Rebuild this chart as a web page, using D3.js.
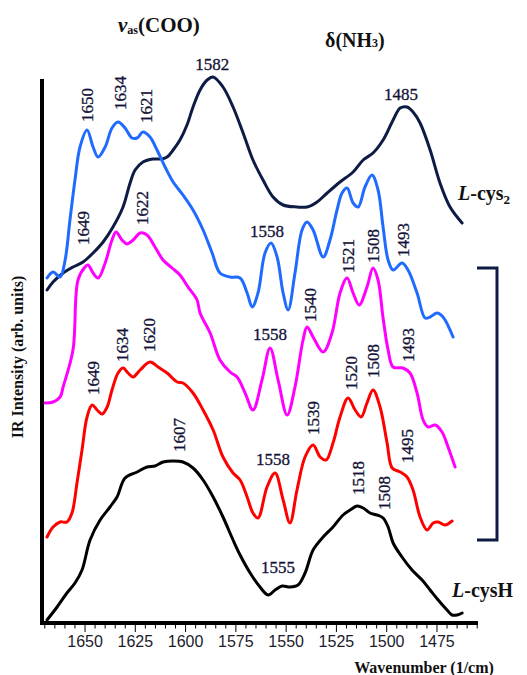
<!DOCTYPE html>
<html>
<head>
<meta charset="utf-8">
<script src="https://cdn.jsdelivr.net/npm/d3@7"></script>
<style>
  body { margin: 0; background: #fff; }
  svg text { font-family: "Liberation Serif", "Times New Roman", serif; }
</style>
</head>
<body>
<div id="chart"></div>
<script>
// spectra, [wavenumber, intensity (arb.)]
const cys2 = [
  [1668.9,333],[1665.9,341],[1660.9,350],[1656.0,356],[1651.0,361],[1646.0,370],[1641.0,381],
  [1636.1,396],[1631.1,416],[1627.6,440],[1625.1,453],[1621.2,461],[1616.2,464],[1611.7,464],
  [1609.2,466],[1606.2,473],[1602.8,483],[1599.3,498],[1596.3,516],[1592.8,533],[1589.3,543],
  [1586.3,546],[1581.4,536],[1576.4,516],[1571.4,490],[1566.5,463],[1561.5,443],[1556.5,426],
  [1551.5,418],[1544.6,416],[1539.6,416],[1534.6,421],[1529.6,430],[1523.2,441],[1516.7,451],
  [1511.7,463],[1506.8,470],[1501.8,483],[1496.8,503],[1493.3,515],[1489.9,516],[1486.9,511],
  [1483.4,500],[1478.4,473],[1473.5,440],[1468.5,416],[1462.5,400]
];
const blueSeries = [
  [1668.9,345],[1665.9,351],[1662.4,346],[1659.9,363],[1657.5,403],[1655.0,443],[1652.5,476],
  [1649.0,493],[1646.0,476],[1643.5,466],[1640.0,476],[1636.6,495],[1633.6,501],[1630.1,495],
  [1626.6,485],[1624.1,485],[1621.2,491],[1617.7,486],[1614.2,473],[1610.2,456],[1606.2,441],
  [1601.3,428],[1596.3,413],[1591.3,393],[1586.8,370],[1582.9,350],[1577.9,346],[1572.9,345],
  [1569.4,330],[1566.9,316],[1564.0,330],[1560.5,370],[1557.5,380],[1554.5,366],[1551.5,330],
  [1549.0,313],[1545.6,350],[1542.1,393],[1539.6,401],[1536.6,393],[1531.6,366],[1528.2,383],
  [1524.7,413],[1522.2,430],[1519.7,435],[1516.7,420],[1514.2,416],[1510.8,436],[1507.3,448],
  [1504.3,433],[1501.8,396],[1499.3,363],[1496.8,353],[1492.4,360],[1489.4,353],[1484.9,330],
  [1480.9,305],[1478.4,306],[1474.9,310],[1472.0,306],[1467.0,286]
];
const magentaSeries = [
  [1669.9,220],[1665.9,221],[1662.4,226],[1660.9,236],[1656.0,273],[1653.5,343],[1650.0,356],
  [1648.5,358],[1646.0,350],[1643.5,345],[1640.0,360],[1636.6,383],[1634.6,391],[1631.6,383],
  [1629.1,379],[1626.1,383],[1622.6,390],[1619.2,388],[1615.2,376],[1611.2,363],[1606.7,355],
  [1602.8,348],[1598.8,336],[1594.3,323],[1592.8,310],[1587.8,290],[1582.9,263],[1577.9,251],
  [1574.4,246],[1570.4,230],[1566.5,213],[1562.0,243],[1558.0,275],[1554.0,243],[1549.5,208],
  [1545.6,236],[1541.6,283],[1539.6,296],[1536.6,286],[1531.6,271],[1527.2,290],[1523.2,330],
  [1519.7,345],[1516.7,330],[1513.7,318],[1509.8,336],[1506.8,355],[1504.3,343],[1501.8,305],
  [1499.3,273],[1496.8,256],[1491.9,255],[1488.4,250],[1484.9,230],[1481.9,203],[1479.4,196],
  [1475.9,198],[1472.5,191],[1469.5,176],[1466.0,156]
];
const redSeries = [
  [1668.9,86],[1665.9,96],[1662.4,101],[1659.0,101],[1656.5,110],[1654.0,140],[1651.5,173],
  [1649.0,206],[1646.5,218],[1644.0,213],[1641.5,209],[1639.0,216],[1636.6,233],[1633.6,250],
  [1631.1,255],[1628.6,250],[1626.1,246],[1622.6,253],[1617.7,261],[1613.7,256],[1609.2,250],
  [1604.2,241],[1601.3,240],[1596.3,230],[1591.3,213],[1586.3,193],[1581.4,166],[1576.4,150],
  [1572.9,143],[1569.4,126],[1566.5,110],[1564.0,105],[1559.5,136],[1555.5,150],[1551.5,123],
  [1548.1,100],[1544.6,133],[1540.6,166],[1536.6,178],[1533.1,166],[1530.1,163],[1526.7,180],
  [1523.2,206],[1519.2,225],[1515.7,213],[1512.7,206],[1509.8,220],[1506.8,233],[1503.3,216],
  [1499.8,180],[1497.3,155],[1493.3,151],[1489.9,146],[1486.9,133],[1483.4,106],[1479.9,93],
  [1476.9,100],[1474.4,101],[1471.0,98],[1467.5,102]
];
const cysH = [
  [1668.9,3],[1663.9,16],[1659.0,30],[1655.0,40],[1651.5,53],[1647.5,83],[1642.5,103],
  [1637.6,116],[1634.1,126],[1630.1,145],[1624.1,151],[1619.2,156],[1615.2,157],[1611.2,161],
  [1606.2,162],[1601.3,161],[1596.3,155],[1591.3,143],[1586.3,126],[1581.4,106],[1576.4,83],
  [1572.9,68],[1567.9,50],[1563.0,36],[1559.0,28],[1555.5,33],[1552.0,37],[1548.1,36],
  [1544.1,38],[1540.6,50],[1536.6,73],[1531.6,86],[1526.7,96],[1521.7,108],[1518.2,113],
  [1514.7,117],[1511.7,115],[1508.3,110],[1504.8,108],[1501.8,105],[1499.3,96],[1496.8,80],
  [1492.4,66],[1487.4,53],[1482.4,43],[1478.4,33],[1474.4,23],[1470.0,13],[1467.5,8],
  [1465.0,8],[1462.5,10]
];

const seriesColors = ["#0e1c45", "#1f6bff", "#ff00ff", "#ff0000", "#000000"];

// peak labels: text, wavenumber, intensity, vertical?
const peakLabels = [
  ["1582",1586.8,553,false],["1485",1492.9,523,false],
  ["1650",1649.0,501,true],["1634",1632.6,513,true],["1621",1619.2,500,true],
  ["1558",1559.5,386,false],["1521",1519.2,350,true],["1508",1506.8,360,true],["1493",1491.4,366,true],
  ["1649",1651.0,378,true],["1622",1621.2,398,true],["1558",1558.0,283,false],
  ["1540",1538.1,301,true],["1493",1489.4,261,true],
  ["1649",1646.0,228,true],["1634",1631.6,261,true],["1620",1617.7,271,true],
  ["1558",1556.5,158,false],["1539",1536.6,188,true],["1520",1517.7,233,true],
  ["1508",1506.8,245,true],["1495",1489.9,160,true],
  ["1607",1602.8,171,true],["1555",1554.0,50,false],["1518",1514.2,128,true],["1508",1501.3,113,true]
];

const majorTicks = [1650, 1625, 1600, 1575, 1550, 1525, 1500, 1475];
const minorTicks = d3.range(1670, 1454, -5);

const W = 527, H = 675;
const svg = d3.select("#chart").append("svg").attr("width", W).attr("height", H);

const x = d3.scaleLinear().domain([1671.4, 1454.6]).range([42, 478]);
const y = d3.scaleLinear().domain([0, 545]).range([623, 78]);

// curves
const line = d3.line()
  .x((d) => x(d[0]))
  .y((d) => y(d[1]))
  .curve(d3.curveCatmullRom.alpha(0.5));

[cys2, blueSeries, magentaSeries, redSeries, cysH].forEach((s, i) => {
  svg.append("path")
    .attr("d", line(s))
    .attr("fill", "none")
    .attr("stroke", seriesColors[i])
    .attr("stroke-width", 3)
    .attr("stroke-linejoin", "round")
    .attr("stroke-linecap", "round");
});

// axes
const xAxis = svg.append("g").attr("transform", "translate(0,623)");
xAxis.selectAll("line.tick")
  .data(minorTicks)
  .enter()
  .append("line")
  .attr("x1", (d) => x(d)).attr("x2", (d) => x(d))
  .attr("y1", 0).attr("y2", (d) => majorTicks.includes(d) ? 9 : 5.5)
  .attr("stroke", "#000").attr("stroke-width", 1);
xAxis.selectAll("text")
  .data(majorTicks)
  .enter()
  .append("text")
  .attr("x", (d) => x(d))
  .attr("y", 24)
  .attr("text-anchor", "middle")
  .style("font-family", "'Liberation Sans', Arial, sans-serif")
  .style("font-size", "16px")
  .attr("fill", "#1c1c2c")
  .text((d) => d);

svg.append("line").attr("x1", 40).attr("x2", 478).attr("y1", 623).attr("y2", 623)
  .attr("stroke", "#000").attr("stroke-width", 4);
svg.append("line").attr("x1", 42).attr("x2", 42).attr("y1", 79).attr("y2", 625)
  .attr("stroke", "#000").attr("stroke-width", 4);

// peak labels
svg.append("g").selectAll("text")
  .data(peakLabels)
  .enter()
  .append("text")
  .attr("transform", (d) => d[3]
    ? `translate(${x(d[1])},${y(d[2])}) rotate(-90)`
    : `translate(${x(d[1])},${y(d[2])})`)
  .attr("text-anchor", (d) => d[3] ? "start" : "middle")
  .attr("dominant-baseline", (d) => d[3] ? "central" : "alphabetic")
  .style("font-size", "17px")
  .attr("fill", "#121236")
  .attr("stroke", "#121236")
  .attr("stroke-width", 0.3)
  .text((d) => d[0]);

// band titles
const t1 = svg.append("text").attr("x", 118).attr("y", 32)
  .style("font-size", "21px").style("font-weight", "bold").attr("fill", "#111");
t1.append("tspan").style("font-style", "italic").text("ν");
t1.append("tspan").style("font-size", "12px").attr("dy", 2).text("as");
t1.append("tspan").attr("dy", -2).text("(COO)");

const t2 = svg.append("text").attr("x", 325).attr("y", 47)
  .style("font-size", "20px").style("font-weight", "bold").attr("fill", "#111");
t2.append("tspan").text("δ(NH");
t2.append("tspan").style("font-size", "12px").text("3");
t2.append("tspan").text(")");

// sample names
const n1 = svg.append("text").attr("x", 458).attr("y", 200)
  .style("font-size", "20px").style("font-weight", "bold").attr("fill", "#111");
n1.append("tspan").style("font-style", "italic").text("L");
n1.append("tspan").text("-cys");
n1.append("tspan").style("font-size", "13px").attr("dy", 4).text("2");

const n2 = svg.append("text").attr("x", 452).attr("y", 597)
  .style("font-size", "20px").style("font-weight", "bold").attr("fill", "#111");
n2.append("tspan").style("font-style", "italic").text("L");
n2.append("tspan").text("-cysH");

// bracket
svg.append("path")
  .attr("d", "M477,268 H497 V540 H477")
  .attr("fill", "none")
  .attr("stroke", "#0e1c45")
  .attr("stroke-width", 3);

// axis titles
svg.append("text")
  .attr("transform", "translate(23,357) rotate(-90)")
  .attr("text-anchor", "middle")
  .style("font-size", "16px").style("font-weight", "bold").attr("fill", "#111")
  .text("IR Intensity (arb. units)");

svg.append("text")
  .attr("x", 424).attr("y", 673)
  .attr("text-anchor", "middle")
  .style("font-size", "16px").style("font-weight", "bold").attr("fill", "#111")
  .text("Wavenumber (1/cm)");
</script>
</body>
</html>
